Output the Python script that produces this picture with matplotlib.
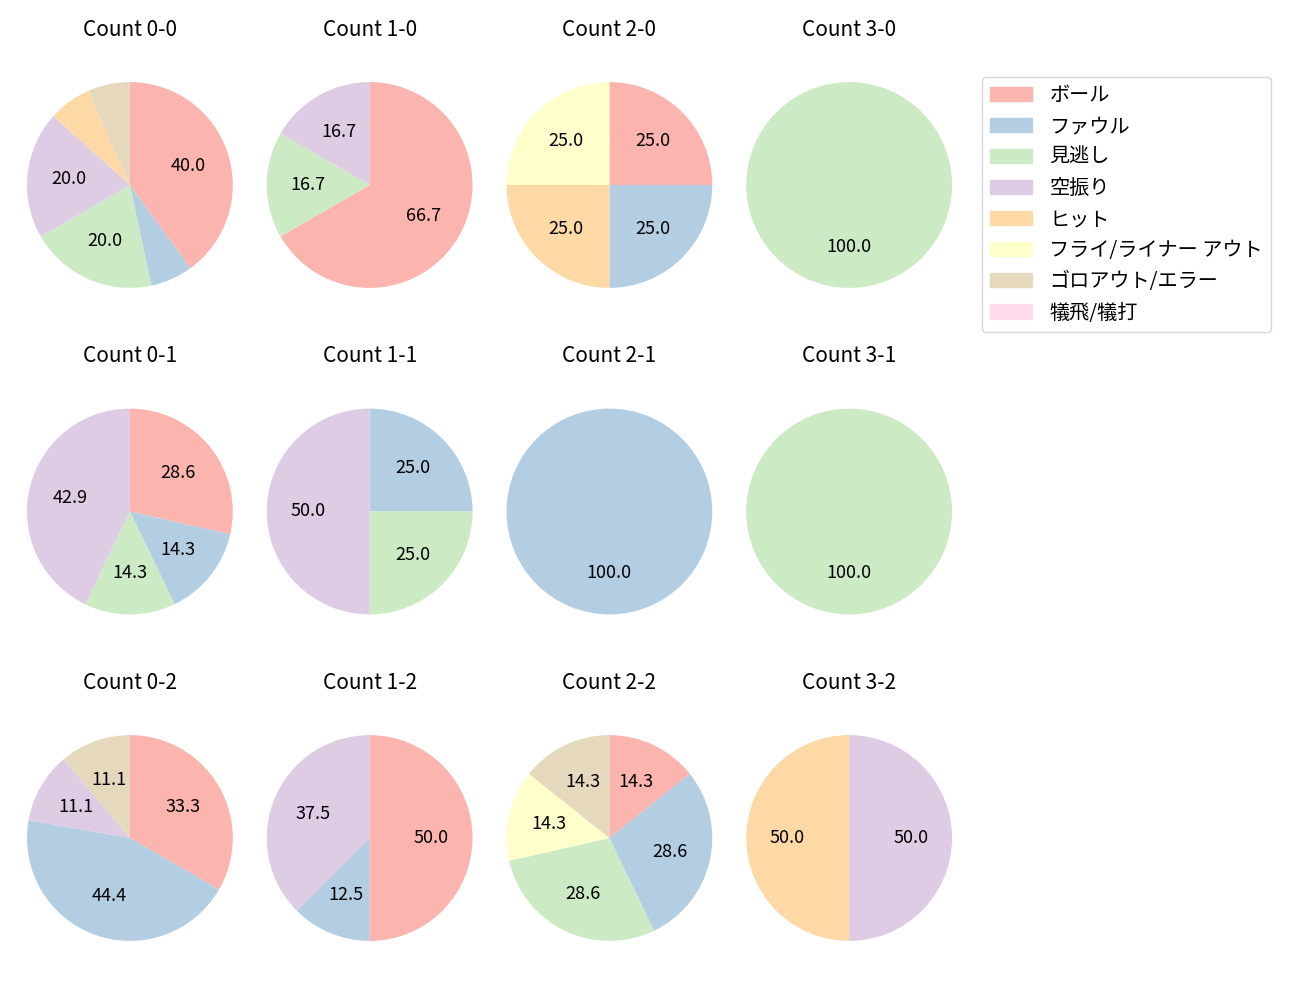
import numpy as np
import matplotlib.pyplot as plt

plt.rcParams['font.family'] = ['Noto Sans CJK JP', 'DejaVu Sans']

categories = ['ボール', 'ファウル', '見逃し', '空振り', 'ヒット',
              'フライ/ライナー アウト', 'ゴロアウト/エラー', '犠飛/犠打']
colors = plt.cm.Pastel1(np.arange(len(categories)))

# counts per category (same order as categories), key = balls-strikes
counts = {
    '0-0': [6, 1, 3, 3, 1, 0, 1, 0],
    '1-0': [4, 0, 1, 1, 0, 0, 0, 0],
    '2-0': [1, 1, 0, 0, 1, 1, 0, 0],
    '3-0': [0, 0, 1, 0, 0, 0, 0, 0],
    '0-1': [2, 1, 1, 3, 0, 0, 0, 0],
    '1-1': [0, 1, 1, 2, 0, 0, 0, 0],
    '2-1': [0, 1, 0, 0, 0, 0, 0, 0],
    '3-1': [0, 0, 1, 0, 0, 0, 0, 0],
    '0-2': [3, 4, 0, 1, 0, 0, 1, 0],
    '1-2': [4, 1, 0, 3, 0, 0, 0, 0],
    '2-2': [1, 2, 2, 0, 0, 1, 1, 0],
    '3-2': [0, 0, 0, 1, 1, 0, 0, 0],
}
balls = [0, 1, 2, 3]
strikes = [0, 1, 2]

fig, axes = plt.subplots(3, 4, figsize=(13, 10), dpi=100)
fig.subplots_adjust(left=0.0077, right=0.7454, top=0.956, bottom=0.021,
                    wspace=0.0, hspace=0.158)

for s in strikes:
    for b in balls:
        ax = axes[s, b]
        key = f'{b}-{s}'
        vals = np.array(counts[key], dtype=float)
        mask = vals > 0
        ax.pie(vals[mask], colors=colors[mask], startangle=90, counterclock=False,
               autopct=lambda p: f'{p:.1f}' if p >= 10 else '',
               pctdistance=0.6, textprops={'fontsize': 13})
        ax.set_title(f'Count {key}', fontsize=15)
        ax.set_xlim(-1.165, 1.165)
        ax.set_ylim(-1.165, 1.165)
        ax.set_aspect('equal', adjustable='datalim')

handles = [plt.Rectangle((0, 0), 1, 1, color=c) for c in colors]
fig.legend(handles, categories, loc='upper left',
           bbox_to_anchor=(0.7554, 0.923), borderaxespad=0, fontsize=14.5,
           handlelength=2.1, handletextpad=0.85)

plt.savefig('out.png')
